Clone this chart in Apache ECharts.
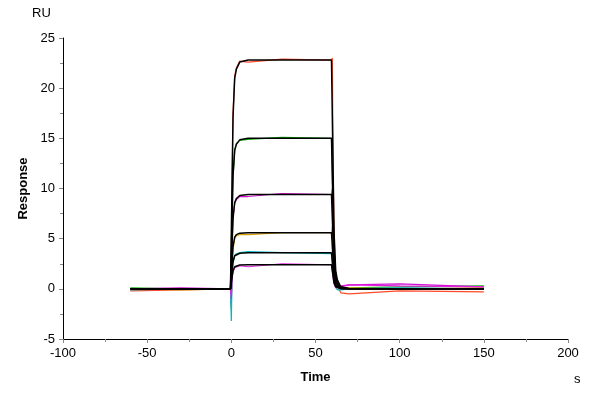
<!DOCTYPE html>
<html>
<head>
<meta charset="utf-8">
<script src="https://cdn.jsdelivr.net/npm/echarts@6/dist/echarts.min.js"></script>
<style>html,body{margin:0;padding:0;background:#fff}#chart{width:600px;height:400px}</style>
</head>
<body>
<div id="chart"></div>
<script>
// sampling times (s)
const times = [-60, -30, -0.5, 0, 0.5, 1, 2, 3, 5, 10, 30, 59.5, 60, 60.5, 61, 62, 63, 65, 70, 100, 150];

// fitted curves (black)
const fit1 = [0, 0, 0, 0, 11.4, 17.1, 21.0, 21.9, 22.6, 22.8, 22.8, 22.8, 22.8, 11.4, 5.7, 1.8, 0.9, 0.2, 0, 0, 0];
const fit2 = [0, 0, 0, 0, 7.5, 11.3, 13.8, 14.4, 14.85, 15.0, 15.0, 15.0, 15.0, 7.5, 3.8, 1.2, 0.6, 0.15, 0, 0, 0];
const fit3 = [0, 0, 0, 0, 4.7, 7.0, 8.6, 9.0, 9.3, 9.4, 9.4, 9.4, 9.4, 4.7, 2.4, 0.75, 0.4, 0.1, 0, 0, 0];
const fit4 = [0, 0, 0, 0, 2.8, 4.2, 5.15, 5.4, 5.55, 5.6, 5.6, 5.6, 5.6, 2.8, 1.4, 0.45, 0.2, 0.05, 0, 0, 0];
const fit5 = [0, 0, 0, 0, 1.8, 2.7, 3.3, 3.45, 3.55, 3.6, 3.6, 3.6, 3.6, 1.8, 0.9, 0.3, 0.15, 0.04, 0, 0, 0];
const fit6 = [0, 0, 0, 0, 1.2, 1.8, 2.2, 2.3, 2.38, 2.4, 2.4, 2.4, 2.4, 1.2, 0.6, 0.2, 0.1, 0.02, 0, 0, 0];

// measured responses (coloured)
const raw1 = [-0.2, -0.1, 0.0, -2.0, 11.0, 17.5, 21.2, 22.0, 22.7, 22.6, 22.9, 22.8, 23.0, 11.8, 5.5, 1.5, 0.3, -0.4, -0.5, -0.2, -0.3];
const raw2 = [0.1, 0.0, 0.0, -1.0, 7.6, 11.0, 13.9, 14.5, 14.8, 14.9, 15.1, 15.0, 15.0, 7.2, 3.6, 1.0, 0.4, 0.0, 0.1, 0.2, 0.3];
const raw3 = [0.0, 0.1, 0.0, -1.5, 4.8, 7.2, 8.5, 8.9, 9.2, 9.2, 9.5, 9.4, 10.0, 5.0, 2.2, 0.7, 0.3, 0.2, 0.4, 0.5, 0.2];
const raw4 = [0.0, -0.1, 0.0, -1.2, 2.9, 4.0, 5.0, 5.3, 5.4, 5.4, 5.6, 5.6, 6.2, 2.9, 1.3, 0.4, 0.1, 0.0, 0.1, 0.0, 0.1];
const raw5 = [-0.1, 0.0, 0.0, -3.2, 1.9, 2.6, 3.3, 3.5, 3.6, 3.7, 3.6, 3.5, 3.4, 1.7, 0.8, 0.2, -0.1, -0.1, 0.0, 0.1, 0.0];
const raw6 = [0.0, 0.0, 0.0, -1.0, 1.3, 1.7, 2.1, 2.2, 2.3, 2.2, 2.5, 2.4, 2.4, 1.1, 0.5, 0.1, 0.2, 0.3, 0.4, 0.3, 0.2];

const rawSets = [raw1, raw2, raw3, raw4, raw5, raw6];
const rawColors = ['#ff4a2a', '#10b010', '#d010d0', '#d8a000', '#00b8c0', '#e020e0'];
const fitSets = [fit1, fit2, fit3, fit4, fit5, fit6];

const pair = (ys) => times.map((t, i) => [t, ys[i]]);
const series = [];
rawSets.forEach((ys, i) => series.push({
    type: 'line', data: pair(ys), showSymbol: false, silent: true,
    lineStyle: { color: rawColors[i], width: 1.2 }
}));
fitSets.forEach((ys) => series.push({
    type: 'line', data: pair(ys), showSymbol: false, silent: true,
    lineStyle: { color: '#000', width: 1.5 }
}));

const font = 'Arial, "Liberation Sans", sans-serif';
const axisCommon = {
    axisLine: { onZero: false, lineStyle: { color: '#000' } },
    axisTick: { lineStyle: { color: '#888' }, length: 4 },
    minorTick: { show: true, splitNumber: 2, length: 3, lineStyle: { color: '#888' } },
    splitLine: { show: false },
    axisLabel: { color: '#000', fontSize: 13, fontFamily: font }
};

const chart = echarts.init(document.getElementById('chart'));
chart.setOption({
    animation: false,
    grid: { left: 63, right: 32, top: 38, bottom: 61 },
    xAxis: Object.assign({
        type: 'value', min: -100, max: 200, interval: 50,
        name: 'Time', nameLocation: 'middle', nameGap: 32,
        nameTextStyle: { fontWeight: 'bold', fontSize: 13, fontFamily: font, color: '#000' }
    }, axisCommon),
    yAxis: Object.assign({
        type: 'value', min: -5, max: 25, interval: 5,
        name: 'Response', nameLocation: 'middle', nameGap: 30,
        nameTextStyle: { fontWeight: 'bold', fontSize: 13, fontFamily: font, color: '#000' }
    }, axisCommon),
    graphic: [
        { type: 'text', left: 32, top: 7, style: { text: 'RU', font: '13px ' + font, fill: '#000' } },
        { type: 'text', left: 574, top: 373, style: { text: 's', font: '13px ' + font, fill: '#000' } }
    ],
    series: series
});
</script>
</body>
</html>
